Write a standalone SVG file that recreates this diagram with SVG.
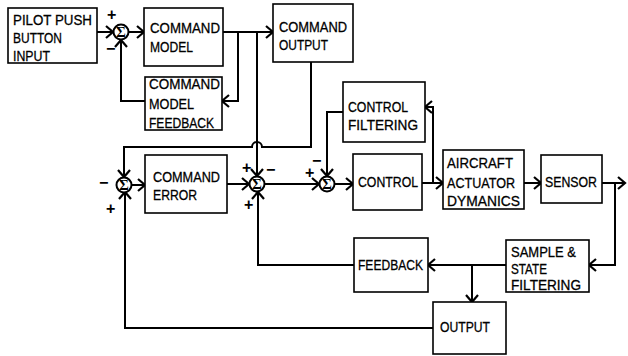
<svg xmlns="http://www.w3.org/2000/svg" width="628" height="356" viewBox="0 0 628 356">
<defs>
<marker id="arr" markerUnits="userSpaceOnUse" markerWidth="14" markerHeight="16" viewBox="-9 -8 11 16" refX="0" refY="0" orient="auto">
<path d="M-7,-6 L0,0 L-7,6" fill="none" stroke="#000" stroke-width="2.2"/>
</marker>
</defs>
<style>
.box{fill:#fff;stroke:#000;stroke-width:1.6}
.t{font-family:"Liberation Sans",Arial,sans-serif;font-size:15px;fill:#000;stroke:#000;stroke-width:0.3}
.sg{font-family:"Liberation Sans",Arial,sans-serif;font-size:16px;fill:#000;font-weight:bold}
.sum circle{fill:#fff;stroke:#000;stroke-width:2}
.sum text{font-family:"Liberation Serif","Times New Roman",serif;font-size:15px;font-weight:bold;fill:#000;text-anchor:middle}
.c{fill:none;stroke:#000;stroke-width:2}
.a{marker-end:url(#arr)}
</style>
<rect width="628" height="356" fill="#fff"/>

<g id="connectors">
<path class="c a" d="M97,32 H113"/>
<path class="c a" d="M128,32 H144"/>
<path class="c a" d="M223,32 H273"/>
<path class="c a" d="M238,32 V101 H222"/>
<path class="c a" d="M145,101 H121 V40"/>
<path class="c a" d="M257,32 V176"/>
<path class="c a" d="M311,62 V147 H262 A5,5 0 0 0 252,147 H124 V177"/>
<path class="c a" d="M433,328 H125 V192"/>
<path class="c a" d="M131,185 H145"/>
<path class="c a" d="M227,184 H249"/>
<path class="c a" d="M264,184 H319"/>
<path class="c a" d="M354,265 H258 V192"/>
<path class="c a" d="M334,184 H353"/>
<path class="c a" d="M422,183 H443"/>
<path class="c a" d="M433,183 V107 H425"/>
<path class="c a" d="M343,112 H327 V176"/>
<path class="c a" d="M524,183 H541"/>
<path class="c a" d="M602,183 H625"/>
<path class="c a" d="M615,183 V265 H589"/>
<path class="c a" d="M506,265 H428"/>
<path class="c a" d="M472,265 V302"/>
</g>

<g id="sum1" class="sum"><circle cx="121" cy="32" r="7.5"/><text x="121" y="37">Σ</text></g>
<g id="sum1-signs"><text class="sg" x="107" y="20">+</text><text class="sg" x="106" y="54">−</text></g>

<g id="sum3" class="sum"><circle cx="124" cy="185" r="7.5"/><text x="124" y="190">Σ</text></g>
<g id="sum3-signs"><text class="sg" x="99" y="188">−</text><text class="sg" x="106" y="214">+</text></g>

<g id="sum4" class="sum"><circle cx="257" cy="184" r="7.5"/><text x="257" y="189">Σ</text></g>
<g id="sum4-signs"><text class="sg" x="242" y="173">+</text><text class="sg" x="266" y="175">−</text><text class="sg" x="244" y="210">+</text></g>

<g id="sum5" class="sum"><circle cx="327" cy="184" r="7.5"/><text x="327" y="189">Σ</text></g>
<g id="sum5-signs"><text class="sg" x="312" y="166">−</text><text class="sg" x="305" y="178">+</text></g>

<g id="pilot"><rect class="box" x="8" y="8" width="89" height="55"/>
<text class="t" x="13" y="25" textLength="79" lengthAdjust="spacingAndGlyphs">PILOT PUSH</text>
<text class="t" x="13" y="43" textLength="49" lengthAdjust="spacingAndGlyphs">BUTTON</text>
<text class="t" x="13" y="61" textLength="37" lengthAdjust="spacingAndGlyphs">INPUT</text></g>

<g id="command-model"><rect class="box" x="144" y="8" width="79" height="58"/>
<text class="t" x="150" y="33" textLength="70" lengthAdjust="spacingAndGlyphs">COMMAND</text>
<text class="t" x="150" y="52" textLength="43" lengthAdjust="spacingAndGlyphs">MODEL</text></g>

<g id="command-output"><rect class="box" x="273" y="4" width="80" height="58"/>
<text class="t" x="279" y="32" textLength="68" lengthAdjust="spacingAndGlyphs">COMMAND</text>
<text class="t" x="279" y="50" textLength="49" lengthAdjust="spacingAndGlyphs">OUTPUT</text></g>

<g id="command-model-feedback"><rect class="box" x="145" y="77" width="77" height="53"/>
<text class="t" x="149" y="89" textLength="71" lengthAdjust="spacingAndGlyphs">COMMAND</text>
<text class="t" x="149" y="109" textLength="45" lengthAdjust="spacingAndGlyphs">MODEL</text>
<text class="t" x="149" y="128" textLength="65" lengthAdjust="spacingAndGlyphs">FEEDBACK</text></g>

<g id="command-error"><rect class="box" x="145" y="155" width="82" height="58"/>
<text class="t" x="153" y="182" textLength="67" lengthAdjust="spacingAndGlyphs">COMMAND</text>
<text class="t" x="153" y="200" textLength="44" lengthAdjust="spacingAndGlyphs">ERROR</text></g>

<g id="control-filtering"><rect class="box" x="343" y="82" width="82" height="60"/>
<text class="t" x="348" y="112" textLength="60" lengthAdjust="spacingAndGlyphs">CONTROL</text>
<text class="t" x="348" y="130" textLength="70" lengthAdjust="spacingAndGlyphs">FILTERING</text></g>

<g id="control"><rect class="box" x="353" y="154" width="69" height="56"/>
<text class="t" x="358" y="187" textLength="60" lengthAdjust="spacingAndGlyphs">CONTROL</text></g>

<g id="aircraft"><rect class="box" x="443" y="150" width="81" height="59"/>
<text class="t" x="447" y="168" textLength="66" lengthAdjust="spacingAndGlyphs">AIRCRAFT</text>
<text class="t" x="447" y="188" textLength="68" lengthAdjust="spacingAndGlyphs">ACTUATOR</text>
<text class="t" x="447" y="206" textLength="73" lengthAdjust="spacingAndGlyphs">DYMANICS</text></g>

<g id="sensor"><rect class="box" x="541" y="155" width="61" height="48"/>
<text class="t" x="545" y="187" textLength="52" lengthAdjust="spacingAndGlyphs">SENSOR</text></g>

<g id="sample"><rect class="box" x="506" y="240" width="83" height="52"/>
<text class="t" x="511" y="257" textLength="65" lengthAdjust="spacingAndGlyphs">SAMPLE &amp;</text>
<text class="t" x="511" y="274" textLength="36" lengthAdjust="spacingAndGlyphs">STATE</text>
<text class="t" x="511" y="290" textLength="70" lengthAdjust="spacingAndGlyphs">FILTERING</text></g>

<g id="feedback"><rect class="box" x="354" y="238" width="74" height="54"/>
<text class="t" x="358" y="270" textLength="65" lengthAdjust="spacingAndGlyphs">FEEDBACK</text></g>

<g id="output"><rect class="box" x="433" y="302" width="73" height="52"/>
<text class="t" x="440" y="332" textLength="50" lengthAdjust="spacingAndGlyphs">OUTPUT</text></g>
</svg>
